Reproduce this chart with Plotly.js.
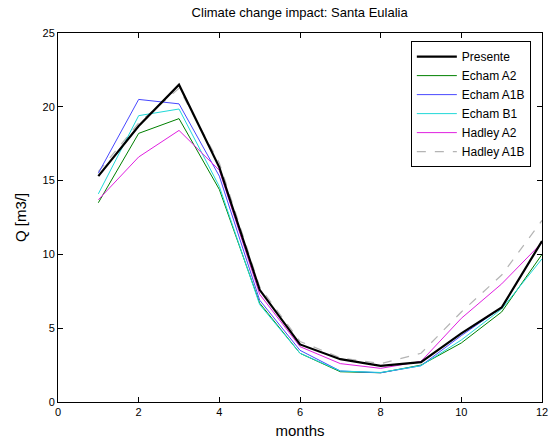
<!DOCTYPE html>
<html><head><meta charset="utf-8">
<script src="https://cdn.plot.ly/plotly-3.0.1.min.js"></script>
<style>body{margin:0;padding:0;background:#fff}#chart{width:558px;height:441px}</style>
</head><body><div id="chart"></div>
<script>
const months = [1,2,3,4,5,6,7,8,9,10,11,12];
const presente  = [15.3,18.7,21.5,15.9,7.6,3.9,2.9,2.45,2.7,4.65,6.4,10.9];
const echamA2   = [13.5,18.2,19.2,14.4,6.7,3.3,2.05,1.98,2.5,4.0,6.1,10.0];
const echamA1B  = [15.5,20.5,20.2,15.3,6.9,3.5,2.1,1.98,2.46,4.5,6.4,10.9];
const echamB1   = [14.1,19.4,19.85,14.6,6.6,3.3,2.1,2.0,2.46,4.2,6.3,9.7];
const hadleyA2  = [13.7,16.6,18.4,15.7,7.3,3.75,2.6,2.28,2.75,5.67,8.0,10.8];
const hadleyA1B = [15.6,18.9,21.25,16.2,7.8,4.1,3.0,2.6,3.3,6.1,8.6,12.3];
const names = ["Presente","Echam A2","Echam A1B","Echam B1","Hadley A2","Hadley A1B"];
const xTicks = [0,2,4,6,8,10,12];
const yTicks = [0,5,10,15,20,25];

const series = [presente, echamA2, echamA1B, echamB1, hadleyA2, hadleyA1B];
const colors = ["#000000","#008000","#4848ff","#20d8d8","#e020e0","#b4b4b4"];
const widths = [2.2,1,1,1,1,1.2];
const dashes = ["solid","solid","solid","solid","solid","dash"];
const drawOrder = [5,1,2,3,4,0];
const traces = drawOrder.map(i => ({
  x: months, y: series[i], name: names[i], type: "scatter", mode: "lines",
  line: {color: colors[i], width: widths[i], dash: dashes[i]},
  legendrank: i + 1
}));

const F = "Liberation Sans, Arial, sans-serif";
const axisCommon = {
  showgrid: false, zeroline: false, showline: true, linecolor: "#000", linewidth: 1,
  mirror: "ticks", ticks: "inside", ticklen: 5, tickcolor: "#000",
  tickfont: {family: F, size: 11, color: "#000"}
};
const layout = {
  width: 558, height: 441,
  margin: {l: 58, r: 16, t: 33, b: 39},
  paper_bgcolor: "#fff", plot_bgcolor: "#fff",
  title: {text: "Climate change impact: Santa Eulalia", x: 0.537, xanchor: "center", y: 0.982, yanchor: "top",
          font: {family: F, size: 13, color: "#000"}},
  xaxis: Object.assign({}, axisCommon, {range: [0,12], tickvals: xTicks,
    title: {text: "months", standoff: 8, font: {family: F, size: 15, color: "#000"}}}),
  yaxis: Object.assign({}, axisCommon, {range: [0,25], tickvals: yTicks,
    title: {text: "Q [m3/]", standoff: 12, font: {family: F, size: 15, color: "#000"}}}),
  showlegend: true,
  legend: {x: 0.729, xanchor: "left", y: 0.978, yanchor: "top",
    bgcolor: "#fff", bordercolor: "#000", borderwidth: 1,
    font: {family: F, size: 12, color: "#000"},
    itemwidth: 40, tracegroupgap: 0}
};
Plotly.newPlot("chart", traces, layout, {displayModeBar: false, staticPlot: true});
</script></body></html>
